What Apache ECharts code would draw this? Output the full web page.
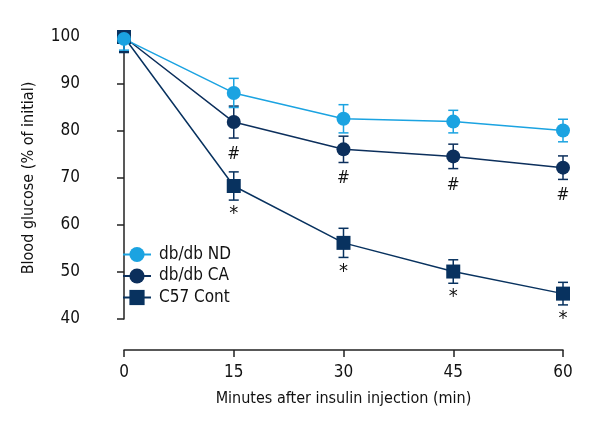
<!DOCTYPE html>
<html><head><meta charset="utf-8">
<script src="https://cdn.jsdelivr.net/npm/echarts@6/dist/echarts.min.js"></script>
<style>html,body{margin:0;padding:0;background:#fff}#c{width:600px;height:440px}</style>
</head><body><div id="c"></div>
<script>
var minutes = [0, 15, 30, 45, 60];
var seriesNames = ['db/db ND', 'db/db CA', 'C57 Cont'];
var ndMean = [99.6, 88.1, 82.6, 82.0, 80.1];
var ndErrUp  = [0, 3.1, 3.0, 2.4, 2.4];
var ndErrLow = [2.4, 3.1, 3.0, 2.4, 2.4];
var caMean = [100, 81.9, 76.1, 74.6, 72.2];
var caErrUp  = [0, 3.4, 2.8, 2.6, 2.5];
var caErrLow = [3.1, 3.4, 2.8, 2.6, 2.5];
var c57Mean = [100, 68.3, 56.2, 50.1, 45.4];
var c57ErrUp  = [0, 3.0, 3.1, 2.5, 2.4];
var c57ErrLow = [3.3, 3.0, 3.1, 2.5, 2.4];
var caSig  = ['', '#', '#', '#', '#'];
var c57Sig = ['', '*', '*', '*', '*'];
var yTicks = [40, 50, 60, 70, 80, 90, 100];

var FONT = '"Liberation Sans Narrow","DejaVu Sans Condensed","Open Sans",sans-serif';
var LIGHT = '#1ba3e1';
var DARK = '#0c2f5c';
var SQ = '#08325f';

function errSeries(mean, up, low, color) {
  return {
    type: 'custom', z: 3, silent: true,
    data: minutes.map(function (m, i) { return [m, mean[i], up[i], low[i]]; }),
    renderItem: function (params, api) {
      var x = api.value(0), y = api.value(1);
      var top = api.coord([x, y + api.value(2)]);
      var bot = api.coord([x, y - api.value(3)]);
      var w = 5;
      var st = { stroke: color, lineWidth: 1.5 };
      var ch = [{ type: 'line', shape: { x1: top[0], y1: top[1], x2: bot[0], y2: bot[1] }, style: st }];
      if (api.value(2) > 0) ch.push({ type: 'line', shape: { x1: top[0] - w, y1: top[1], x2: top[0] + w, y2: top[1] }, style: st });
      if (api.value(3) > 0) ch.push({ type: 'line', shape: { x1: bot[0] - w, y1: bot[1], x2: bot[0] + w, y2: bot[1] }, style: st });
      return { type: 'group', children: ch };
    }
  };
}
function sigSeries(mean, low, marks) {
  return {
    type: 'custom', silent: true, z: 5,
    data: minutes.map(function (m, i) { return [m, mean[i] - low[i]]; }),
    renderItem: function (params, api) {
      var txt = marks[params.dataIndex];
      if (!txt) return null;
      var p = api.coord([api.value(0), api.value(1)]);
      return { type: 'text', style: {
        x: p[0], y: p[1] + (txt === '*' ? 4 : 8), text: txt,
        fill: '#111', font: (txt === '*' ? '20px ' : '17px ') + FONT,
        align: 'center', verticalAlign: 'top'
      }};
    }
  };
}
function lineSeries(name, mean, color, symbol, size) {
  return {
    type: 'line', name: name, z: 4,
    data: minutes.map(function (m, i) { return [m, mean[i]]; }),
    symbol: symbol, symbolSize: size, showSymbol: true,
    lineStyle: { color: color, width: 1.5 },
    itemStyle: { color: color, borderWidth: 0 },
    emphasis: { disabled: true }
  };
}

var chart = echarts.init(document.getElementById('c'), null, { renderer: 'canvas' });
chart.setOption({
  animation: false,
  backgroundColor: '#fff',
  textStyle: { fontFamily: FONT },
  grid: { left: 124, right: 37, top: 37, bottom: 121, containLabel: false },
  legend: {
    orient: 'vertical', left: 117, top: 241, itemGap: 4.5,
    itemWidth: 28, itemHeight: 19,
    data: seriesNames,
    textStyle: { fontFamily: FONT, fontSize: 17, color: '#111', padding: [0, 0, 0, 3] }
  },
  xAxis: {
    type: 'value', min: 0, max: 60, interval: 15, offset: 31,
    name: 'Minutes after insulin injection (min)', nameLocation: 'middle', nameGap: 41,
    nameTextStyle: { fontFamily: FONT, fontSize: 16, color: '#111' },
    axisLine: { lineStyle: { color: '#222', width: 1.5 } },
    axisTick: { length: 7, lineStyle: { color: '#222', width: 1.5 } },
    axisLabel: { fontFamily: FONT, fontSize: 17, color: '#111', margin: 14 },
    splitLine: { show: false }
  },
  yAxis: {
    type: 'value', min: 40, max: 100, interval: 10, offset: 30,
    name: 'Blood glucose (% of initial)', nameLocation: 'middle', nameGap: 57,
    nameTextStyle: { fontFamily: FONT, fontSize: 16, color: '#111' },
    axisLine: { show: true, lineStyle: { color: '#222', width: 1.5 } },
    axisTick: { show: true, length: 7, lineStyle: { color: '#222', width: 1.5 } },
    axisLabel: { fontFamily: FONT, fontSize: 17, color: '#111', margin: 14,
      formatter: function (v) { return yTicks.indexOf(v) >= 0 ? String(v) : ''; } },
    splitLine: { show: false }
  },
  series: [
    errSeries(c57Mean, c57ErrUp, c57ErrLow, SQ),
    lineSeries('C57 Cont', c57Mean, SQ, 'rect', 14),
    sigSeries(c57Mean, c57ErrLow, c57Sig),
    errSeries(caMean, caErrUp, caErrLow, DARK),
    lineSeries('db/db CA', caMean, DARK, 'circle', 14),
    sigSeries(caMean, caErrLow, caSig),
    errSeries(ndMean, ndErrUp, ndErrLow, LIGHT),
    lineSeries('db/db ND', ndMean, LIGHT, 'circle', 14)
  ]
});
</script>
</body></html>
